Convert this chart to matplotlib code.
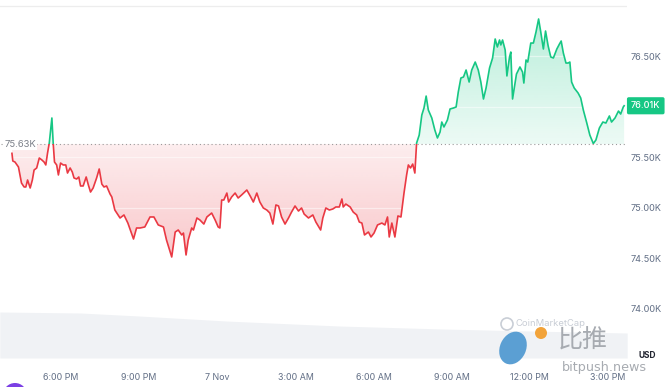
import numpy as np
import matplotlib
matplotlib.use("Agg")
import matplotlib.pyplot as plt
from matplotlib.patches import Rectangle, Circle, Ellipse
from matplotlib.path import Path
from matplotlib.colors import to_rgb
from matplotlib.transforms import IdentityTransform, blended_transform_factory

# ---------------- data ----------------
# minutes after 16:00 on 6 Nov
minutes = [7, 9, 14, 22, 29, 35, 39, 43, 49, 54, 58, 64, 70, 76, 81, 85, 89, 93, 99, 102,
           105, 110, 114, 119, 125, 131, 135, 141, 146, 150, 156, 161, 165, 171, 178, 183, 188, 194, 202, 208,
           214, 219, 225, 233, 237, 244, 256, 265, 274, 287, 294, 302, 313, 325, 334, 344, 356, 363, 375, 383,
           390, 398, 402, 408, 413, 421, 425, 433, 440, 449, 456, 467, 475, 482, 486, 490, 495, 502, 506, 513,
           521, 528, 536, 548, 557, 563, 571, 578, 586, 594, 601, 608, 615, 621, 628, 636, 644, 651, 659, 667,
           674, 680, 690, 700, 707, 718, 723, 730, 738, 746, 753, 761, 767, 770, 776, 786, 793, 801, 807, 813,
           819, 828, 834, 841, 849, 859, 866, 872, 876, 882, 889, 896, 903, 910, 916, 920, 925, 930, 935, 939,
           945, 951, 956, 961, 966, 974, 981, 987, 993, 997, 1002, 1010, 1016, 1024, 1030, 1035, 1041, 1047, 1053, 1060,
           1066, 1074, 1081, 1087, 1093, 1099, 1107, 1114, 1120, 1125, 1130, 1133, 1137, 1143, 1147, 1153, 1156, 1160, 1169, 1177,
           1183, 1186, 1191, 1195, 1202, 1208, 1214, 1220, 1225, 1231, 1236, 1242, 1248, 1254, 1262, 1268, 1272, 1277, 1283, 1288,
           1292, 1296, 1302, 1311, 1317, 1323, 1331, 1338, 1346, 1352, 1360, 1368, 1375, 1383, 1388, 1396, 1404, 1409, 1415, 1417]
prices = [75539, 75463, 75453, 75404, 75245, 75206, 75206, 75275, 75196, 75275, 75374, 75394, 75493, 75473, 75453, 75424, 75542, 75641, 75889, 75641,
          75453, 75424, 75325, 75443, 75424, 75424, 75344, 75394, 75354, 75295, 75285, 75305, 75216, 75216, 75305, 75226, 75156, 75196, 75295, 75384,
          75235, 75206, 75216, 75136, 75107, 74978, 74899, 74929, 74849, 74691, 74800, 74800, 74810, 74909, 74909, 74830, 74810, 74681, 74513, 74760,
          74780, 74731, 74750, 74533, 74681, 74800, 74780, 74899, 74879, 74839, 74909, 74948, 74879, 74810, 74800, 75077, 75077, 75146, 75057, 75107,
          75146, 75097, 75127, 75176, 75107, 75057, 75146, 75057, 74998, 74978, 74948, 74839, 75028, 75018, 74909, 74839, 74899, 74958, 75018, 74968,
          74998, 74938, 74899, 74929, 74859, 74780, 74899, 74998, 74978, 74988, 75008, 75008, 75087, 75008, 75037, 75008, 74958, 74929, 74859, 74849,
          74731, 74760, 74711, 74750, 74830, 74849, 74830, 74909, 74711, 74849, 74711, 74919, 74909, 75146, 75325, 75424, 75394, 75433, 75344, 75641,
          75720, 75918, 75988, 76106, 75968, 75889, 75770, 75691, 75750, 75849, 75800, 75869, 75978, 75988, 75998, 76146, 76285, 76295, 76364, 76245,
          76364, 76443, 76364, 76245, 76077, 76186, 76384, 76483, 76671, 76592, 76661, 76612, 76661, 76562, 76305, 76493, 76542, 76077, 76324, 76394,
          76344, 76235, 76463, 76443, 76631, 76631, 76740, 76869, 76740, 76572, 76750, 76602, 76493, 76483, 76572, 76621, 76651, 76532, 76433, 76433,
          76443, 76245, 76186, 76136, 76087, 75968, 75839, 75720, 75636, 75671, 75790, 75849, 75839, 75909, 75849, 75889, 75958, 75928, 75998, 76010]

# 24h volume (bn USD) in the background band
vol_minutes = [-21, 165, 300, 500, 760, 1000, 1200, 1424]
vol_bn = [46, 45, 42, 37, 32, 29, 27, 25]

open_price = 75630
last_price = 76010
open_label = "75.63K"
last_label = "76.01K"

tick_minutes = [120, 300, 480, 660, 840, 1020, 1200, 1380]
tick_labels = ["6:00 PM", "9:00 PM", "7 Nov", "3:00 AM", "6:00 AM", "9:00 AM", "12:00 PM", "3:00 PM"]
y_ticks = [74000, 74500, 75000, 75500, 76500]
y_tick_labels = ["74.00K", "74.50K", "75.00K", "75.50K", "76.50K"]
grid_levels = [74000, 74500, 75000, 75500, 76000, 76500]
top_level = 77000

GREEN = "#16c784"
RED = "#ea3943"
TXT = "#616e85"

# ---------------- figure ----------------
W, H = 669, 387
fig = plt.figure(figsize=(W / 100, H / 100), dpi=100)
rect = [0, 1 - 358 / H, 627 / W, 358 / H]

axv = fig.add_axes(rect, zorder=0)
axv.fill_between(vol_minutes, vol_bn, 0, color="#f0f2f5", lw=0)
axv.set_xlim(-20.5, 1423.6)
axv.set_ylim(0, 358)
axv.axis("off")

ax = fig.add_axes(rect, zorder=1)
ax.patch.set_alpha(0)
ax.set_xlim(-20.5, 1423.6)
ax.set_ylim(73513, 77057)
for s in ax.spines.values():
    s.set_visible(False)

x = np.array(minutes, float)
y = np.array(prices, float)

# gradient fills
def grad_fill(where, color, a_near, a_far, y0, y1):
    coll = ax.fill_between(x, y, open_price, where=where, interpolate=True,
                           color="none", lw=0)
    paths = coll.get_paths()
    cp = Path.make_compound_path(*paths)
    r, g, b = to_rgb(color)
    n = 256
    img = np.zeros((n, 1, 4))
    img[..., 0], img[..., 1], img[..., 2] = r, g, b
    img[:, 0, 3] = np.linspace(a_near, a_far, n)
    im = ax.imshow(img, extent=[x.min(), x.max(), y0, y1], origin="lower",
                   aspect="auto", zorder=1, interpolation="bilinear")
    im.set_clip_path(cp, transform=ax.transData)

grad_fill(y >= open_price, GREEN, 0.08, 0.30, open_price, y.max())
grad_fill(y <= open_price, RED, 0.09, 0.28, open_price, y.min())

# grid lines: white, so they only show through the fills
for lv in grid_levels:
    ax.axhline(lv, color="white", lw=0.9, alpha=0.5, zorder=2)
ax.axhline(top_level, color="#ededed", lw=0.9, zorder=2)

# baseline (open price)
ax.plot([x.min() - 26, 1421], [open_price, open_price], color="#9a9a9a",
        lw=0.8, ls=(0, (1, 2.5)), zorder=3)

# price line split into green/red around the open price
big = 1e5
lg, = ax.plot(x, y, color=GREEN, lw=1.2, zorder=4, solid_joinstyle="round")
lg.set_clip_path(Rectangle((-1e4, open_price), 1e6, big, transform=ax.transData))
lr, = ax.plot(x, y, color=RED, lw=1.2, zorder=4, solid_joinstyle="round")
lr.set_clip_path(Rectangle((-1e4, open_price - big), 1e6, big, transform=ax.transData))

# open price label
ax.text(-11, open_price, open_label, fontsize=6.8, color="#7a7f88", ha="left",
        va="center", family="Inter", zorder=5,
        bbox=dict(boxstyle="square,pad=0.15", fc="white", ec="none"))

# ticks
ax.set_xticks(tick_minutes)
ax.set_xticklabels(tick_labels)
ax.yaxis.tick_right()
ax.set_yticks(y_ticks)
ax.set_yticklabels(y_tick_labels)
ax.tick_params(axis="x", length=0, pad=10.5, labelsize=6.4, labelcolor=TXT)
ax.tick_params(axis="y", length=0, pad=2.5, labelsize=6.6, labelcolor=TXT)
for lab in ax.get_xticklabels() + ax.get_yticklabels():
    lab.set_family("Inter")

# last price tag
tr = blended_transform_factory(ax.transAxes, ax.transData)
ax.text(1.0 + 4 / 627, last_price, last_label, transform=tr, fontsize=6.5,
        color="white", ha="left", va="center", family="Inter", fontweight="medium",
        zorder=6, clip_on=False,
        bbox=dict(boxstyle="round,pad=0.45,rounding_size=0.2", fc=GREEN, ec="none"))

# USD label
fig.text(647 / W, 1 - 355 / H, "USD", fontsize=6, color="#222531",
         fontweight="bold", ha="center", va="center", family="Inter", zorder=10)

# watermark
fig.text(516 / W, 1 - 324 / H, "CoinMarketCap", fontsize=6.8, color="#c9ced6",
         ha="left", va="center", family="Inter", zorder=10)
fig.add_artist(Circle((507, H - 324), 6, transform=IdentityTransform(),
                      fill=False, ec="#c9ced6", lw=1.2, zorder=10))
fig.add_artist(Ellipse((513, H - 348), 26, 34, angle=-25, transform=IdentityTransform(),
                       fc="#5b9fd3", ec="none", zorder=10))
fig.add_artist(Circle((541, H - 333), 6, transform=IdentityTransform(),
                      fc="#f2a33a", ec="none", zorder=10))
fig.text(583 / W, 1 - 341 / H, "比推", fontsize=18, color="#a7abb1",
         ha="center", va="center", family=["Noto Sans CJK SC", "DejaVu Sans"], zorder=10)
fig.text(604 / W, 1 - 367 / H, "bitpush.news", fontsize=9.2, color="#a7abb1",
         ha="center", va="center", family="DejaVu Sans", zorder=9)

# purple badge at bottom-left
fig.add_artist(Circle((15, H - 395), 12, transform=IdentityTransform(),
                      fc="#7b3fe4", ec="none", zorder=10))

fig.savefig("out.png", dpi=100)
